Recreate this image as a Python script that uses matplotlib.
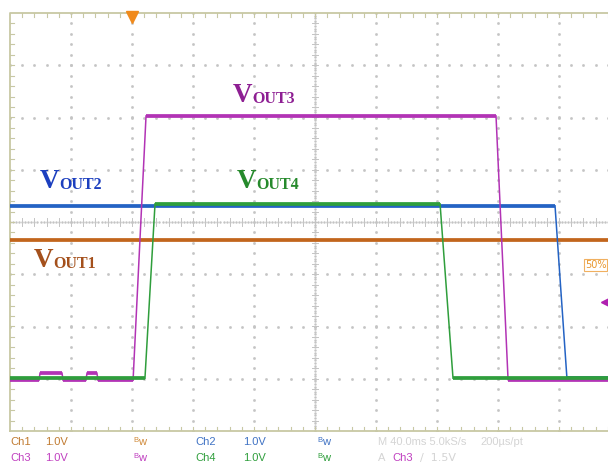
import numpy as np
import matplotlib
matplotlib.use("Agg")
import matplotlib.pyplot as plt

# ---------------- data (time in ms from left edge, level in screen divisions) -------------
t_out1 = [0, 400]
v_out1 = [-0.34, -0.34]

t_out2 = [0, 357.4, 365.2, 400]
v_out2 = [0.31, 0.31, -2.99, -2.99]

t_out3 = [0, 19.0, 19.7, 34.1, 34.8, 49.8, 50.5, 57.0, 57.7, 80.7, 89.2, 318.7, 326.6, 400]
v_out3 = [-3.03, -3.03, -2.89, -2.89, -3.03, -3.03, -2.89, -2.89, -3.03, -3.03, 2.03, 2.03, -3.02, -3.02]

t_out4 = [0, 88.5, 95.1, 282.0, 290.5, 400]
v_out4 = [-2.99, -2.99, 0.35, 0.35, -2.99, -2.99]

labels = ["OUT1", "OUT2", "OUT3", "OUT4"]

trace_colors = {"OUT1": "#c2651c", "OUT2": "#2463c4", "OUT3": "#b233b5", "OUT4": "#2f9e3c"}
text_colors = {"OUT1": "#a4501c", "OUT2": "#1c3fbf", "OUT3": "#8e1f93", "OUT4": "#268a2c"}

W, H = 608, 471
fig = plt.figure(figsize=(W / 100, H / 100), dpi=100)
fig.patch.set_facecolor("white")

# screen: 10 x 8 divisions, left=10px, top=13px, bottom=431px, 61px/div
left_px, top_px, bot_px, div_px = 10, 13, 431, 61
ax = fig.add_axes([left_px / W, (H - bot_px) / H, 10 * div_px / W, (bot_px - top_px) / H])
ax.set_xlim(0, 400)
ax.set_ylim(-4, 4)
ax.axis("off")

grid_c = "#c4c4c4"
border_c = "#c8c8a4"
# dotted graticule
for i in range(1, 10):
    if i == 5:
        continue
    x = i * 40
    ys = np.arange(-4, 4.01, 0.2)
    ax.plot(np.full_like(ys, x), ys, ls="none", marker="s", ms=0.9, color=grid_c, zorder=1)
for j in range(-3, 4):
    if j == 0:
        continue
    xs = np.arange(0, 400.1, 8)
    ax.plot(xs, np.full_like(xs, j), ls="none", marker="s", ms=0.9, color=grid_c, zorder=1)
# center crosshair with ticks
xs = np.arange(0, 400.1, 2)
ax.plot(xs, np.zeros_like(xs), ls="none", marker="s", ms=0.7, color=grid_c, zorder=1)
ys = np.arange(-4, 4.01, 0.05)
ax.plot(np.full_like(ys, 200), ys, ls="none", marker="s", ms=0.7, color=grid_c, zorder=1)
for x in np.arange(8, 400, 8):
    ax.plot([x, x], [-0.07, 0.07], color=grid_c, lw=0.7, zorder=1)
for y in np.arange(-3.8, 4, 0.2):
    ax.plot([200 - 1.8, 200 + 1.8], [y, y], color=grid_c, lw=0.7, zorder=1)
# border with inward ticks
ax.plot([0, 400, 400, 0, 0], [-4, -4, 4, 4, -4], color=border_c, lw=1.3, zorder=2, clip_on=False)
for x in np.arange(8, 400, 8):
    ax.plot([x, x], [4, 3.92], color=border_c, lw=0.8, zorder=2)
    ax.plot([x, x], [-4, -3.92], color=border_c, lw=0.8, zorder=2)
for y in np.arange(-3.8, 4, 0.2):
    ax.plot([0, 2.6], [y, y], color=border_c, lw=0.8, zorder=2)

# traces
series = [("OUT1", t_out1, v_out1), ("OUT2", t_out2, v_out2),
          ("OUT3", t_out3, v_out3), ("OUT4", t_out4, v_out4)]
for z, (name, t, v) in enumerate(series):
    c = trace_colors[name]
    ax.plot(t, v, color=c, lw=1.1, zorder=5 + z, solid_joinstyle="miter")
    for k in range(len(t) - 1):
        if v[k] == v[k + 1]:
            ax.plot([t[k], t[k + 1]], [v[k], v[k + 1]], color=c, lw=2.7,
                    solid_capstyle="butt", zorder=5 + z)

# trigger markers
ax.plot([80], [3.93], marker="v", ms=8, color="#f08a1c", clip_on=False, zorder=10)
ax.plot([391], [-1.53], marker="<", ms=7, color="#b020b0", clip_on=False, zorder=10)
fig.text(585 / W, 1 - 265 / H, "50%", color="#e8962c", fontsize=7, va="center", ha="left",
         family="DejaVu Sans",
         bbox=dict(boxstyle="square,pad=0.1", fc="white", ec="#f0b060", lw=0.8))

# trace labels (V + subscript)
lab_pos = {"OUT3": (233, 102), "OUT2": (40, 188), "OUT4": (237, 188), "OUT1": (34, 267)}
for name in labels:
    x, y = lab_pos[name]
    c = text_colors[name]
    fig.text(x / W, 1 - y / H, "V", color=c, fontsize=19.5, fontweight="bold",
             family="Liberation Serif", va="baseline", ha="left")
    fig.text((x + 19) / W, 1 - (y + 1) / H, name, color=c, fontsize=11.5, fontweight="bold",
             family="Liberation Serif", va="baseline", ha="left")

# bottom status text
fs = 8
rows = [
    (445, [("Ch1", 10, "#c07a30"), ("1.0V", 45, "#c07a30"), ("Ch2", 195, "#3f72c4"), ("1.0V", 243, "#3f72c4")],
     [(133, "#d08a3a"), (317, "#3f72c4")]),
    (461, [("Ch3", 10, "#c040c0"), ("1.0V", 45, "#c040c0"), ("Ch4", 195, "#2f9e3c"), ("1.0V", 243, "#2f9e3c")],
     [(133, "#c040c0"), (317, "#2f9e3c")]),
]
for y, items, bws in rows:
    for s, x, c in items:
        fig.text(x / W, 1 - y / H, s, color=c, fontsize=fs, family="Liberation Sans", va="baseline")
    for x, c in bws:
        fig.text(x / W, 1 - (y - 3) / H, "B", color=c, fontsize=5.5, family="Liberation Sans", va="baseline")
        fig.text((x + 5) / W, 1 - y / H, "w", color=c, fontsize=fs, family="Liberation Sans", va="baseline")
gray = "#d4d4d4"
fig.text(378 / W, 1 - 445 / H, "M 40.0ms 5.0kS/s", color=gray, fontsize=fs, family="Liberation Sans", va="baseline")
fig.text(480 / W, 1 - 445 / H, "200\u00b5s/pt", color=gray, fontsize=fs, family="Liberation Sans", va="baseline")
fig.text(378 / W, 1 - 461 / H, "A", color=gray, fontsize=fs, family="Liberation Sans", va="baseline")
fig.text(392 / W, 1 - 461 / H, "Ch3", color="#c040c0", fontsize=fs, family="Liberation Sans", va="baseline")
fig.text(420 / W, 1 - 461 / H, "\u2215  1.5V", color=gray, fontsize=fs, family="DejaVu Sans", va="baseline")

fig.savefig("out.png", dpi=100, facecolor="white")
